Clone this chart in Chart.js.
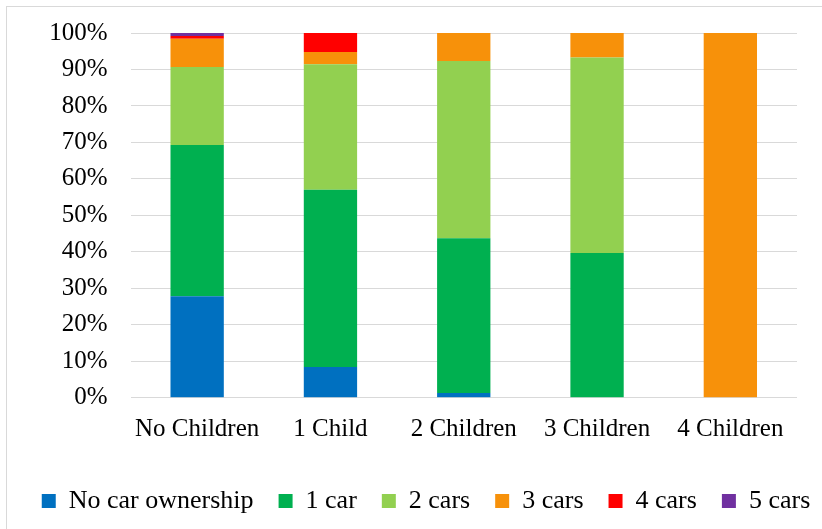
<!DOCTYPE html>
<html>
<head>
<meta charset="utf-8">
<script src="https://cdn.jsdelivr.net/npm/chart.js@4.4.1/dist/chart.umd.min.js"></script>
<style>
  html, body { margin: 0; padding: 0; background: #fff; overflow: hidden; width: 822px; height: 529px; }
  #marco { position: absolute; left: 6px; top: 6px; width: 1000px; height: 1000px; border: 1px solid #d9d9d9; }
  #lienzo { position: absolute; left: 0; top: 0; width: 852px; height: 538px; }
</style>
</head>
<body>
<div id="marco"></div>
<div id="lienzo"><canvas id="grafico"></canvas></div>
<script>
// categorias y porcentajes por numero de autos
const categorias = ['No Children', '1 Child', '2 Children', '3 Children', '4 Children'];
const sinAuto  = [27.8, 8.4, 1.3, 0, 0];
const unAuto   = [41.5, 48.6, 42.4, 39.7, 0];
const dosAutos = [21.4, 34.4, 48.6, 53.6, 0];
const tresAutos = [7.7, 3.4, 7.7, 6.7, 100];
const cuatroAutos = [0.8, 5.2, 0, 0, 0];
const cincoAutos = [0.8, 0, 0, 0, 0];
const etiquetasY = ['0%', '10%', '20%', '30%', '40%', '50%', '60%', '70%', '80%', '90%', '100%'];

const fuente = "'Liberation Serif', 'Times New Roman', serif";

function serie(label, data, color) {
    return { label: label, data: data, backgroundColor: color, borderWidth: 0, yAxisID: 'y' };
}

const ctx = document.getElementById('grafico').getContext('2d');
new Chart(ctx, {
    type: 'bar',
    data: {
        labels: categorias,
        datasets: [
            serie('No car ownership', sinAuto, '#0070C0'),
            serie('1 car', unAuto, '#00B050'),
            serie('2 cars', dosAutos, '#92D050'),
            serie('3 cars', tresAutos, '#F7910A'),
            serie('4 cars', cuatroAutos, '#FF0000'),
            serie('5 cars', cincoAutos, '#7030A0')
        ]
    },
    options: {
        responsive: true,
        maintainAspectRatio: false,
        animation: false,
        datasets: { bar: { barPercentage: 0.4, categoryPercentage: 1 } },
        layout: { padding: { left: 0, right: 0, top: 33, bottom: 14 } },
        scales: {
            x: {
                stacked: true,
                grid: { display: false, drawTicks: false },
                border: { display: false },
                ticks: { color: '#000', font: { family: fuente, size: 25 }, padding: 17, maxRotation: 0 },
                afterFit: s => { s.height = 65.3; }
            },
            y: {
                stacked: true,
                min: 0,
                max: 100,
                grid: { color: '#d9d9d9', lineWidth: 1, drawTicks: false },
                border: { display: false },
                ticks: {
                    stepSize: 10,
                    padding: 23,
                    color: '#000',
                    font: { family: fuente, size: 25 },
                    callback: (v) => etiquetasY[Math.round(v / 10)]
                },
                afterFit: s => {
                    s.width = 130.5;
                    s.paddingTop = 0;
                    s.paddingBottom = 0;
                }
            },
            // eje vacio a la derecha para dejar el margen del area de trazado
            derecha: {
                position: 'right',
                display: true,
                grid: { display: false, drawTicks: false },
                border: { display: false },
                ticks: { display: false },
                afterFit: s => { s.width = 55; }
            }
        },
        plugins: {
            legend: {
                position: 'bottom',
                labels: {
                    color: '#000',
                    font: { family: fuente, size: 26 },
                    boxWidth: 14,
                    boxHeight: 14,
                    padding: 25
                }
            },
            tooltip: { enabled: false }
        }
    }
});
</script>
</body>
</html>
